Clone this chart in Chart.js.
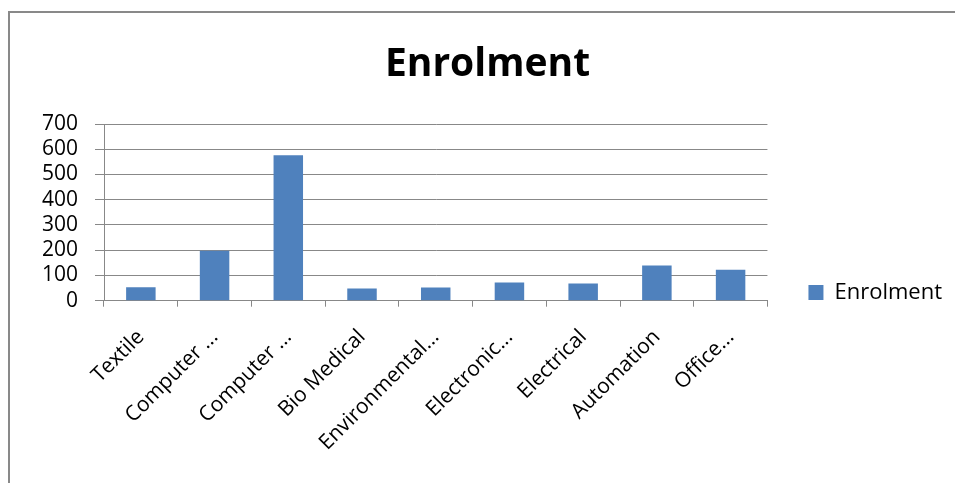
<!DOCTYPE html>
<html>
<head>
<meta charset="utf-8">
<script src="https://cdn.jsdelivr.net/npm/chart.js@4.4.1/dist/chart.umd.min.js"></script>
<style>
  html, body { margin: 0; padding: 0; background: #fff; overflow: hidden; }
  #frame {
    position: absolute; left: 8px; top: 11px;
    width: 1000px; height: 1000px;
    border: 2px solid #898989;
  }
  #wrap { position: absolute; left: 0; top: 0; width: 955px; height: 483px; }
</style>
</head>
<body>
<div id="frame"></div>
<div id="wrap"><canvas id="myChart"></canvas></div>
<script>
// enrolment per programme
const categories = ['Textile', 'Computer ...', 'Computer ...', 'Bio Medical', 'Environmental...', 'Electronic...', 'Electrical', 'Automation', 'Office...'];
const enrolment = [53, 198, 576, 48, 52, 72, 68, 139, 123];
const yMin = 0;
const yMax = 700;
const yStep = 100;

const gridGrey = '#888888';
const font = 'Open Sans';

const ctx = document.getElementById('myChart').getContext('2d');
new Chart(ctx, {
  type: 'bar',
  data: {
    labels: categories,
    datasets: [{
      label: 'Enrolment',
      data: enrolment,
      backgroundColor: '#4F81BD',
      borderWidth: 0,
      barPercentage: 0.4,
      categoryPercentage: 1
    }]
  },
  options: {
    responsive: true,
    maintainAspectRatio: false,
    animation: false,
    layout: {
      padding: { left: 23, top: 0, right: 3, bottom: 0 }
    },
    scales: {
      y: {
        min: yMin,
        max: yMax,
        afterFit: function (scale) { scale.width = 81; },
        ticks: {
          stepSize: yStep,
          autoSkip: false,
          padding: 17,
          color: '#000',
          font: { family: font, size: 21, lineHeight: 1 }
        },
        grid: {
          color: gridGrey,
          lineWidth: 1,
          tickLength: 9
        },
        border: { color: gridGrey, width: 1 }
      },
      x: {
        // room for the slanted labels under the axis
        afterFit: function (scale) { scale.height = 182.3; },
        ticks: {
          autoSkip: false,
          maxRotation: 45,
          minRotation: 45,
          padding: 18,
          color: '#000',
          font: { family: font, size: 21 }
        },
        grid: {
          offset: true,
          drawOnChartArea: false,
          color: gridGrey,
          tickLength: 6
        },
        border: { color: gridGrey, width: 1 }
      }
    },
    plugins: {
      title: {
        display: true,
        text: 'Enrolment',
        color: '#000',
        font: { family: font, size: 39, weight: 'bold' },
        padding: { top: 41, bottom: 36.2 }
      },
      legend: {
        position: 'right',
        align: 'start',
        // empty legend title keeps the key level with the bars' base
        title: {
          display: true,
          text: '',
          padding: { top: 226.1, bottom: 0 }
        },
        labels: {
          boxWidth: 15,
          boxHeight: 15,
          padding: 41,
          color: '#000',
          font: { family: font, size: 22 }
        }
      },
      tooltip: { enabled: false }
    }
  }
});
</script>
</body>
</html>
